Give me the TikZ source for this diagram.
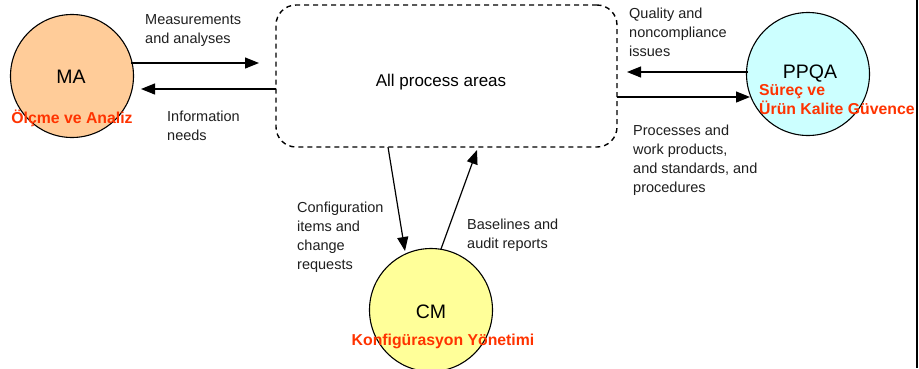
\documentclass[tikz,border=0pt]{standalone}
\usepackage{fontspec}
\setmainfont{Liberation Sans}
\usetikzlibrary{arrows.meta}
\definecolor{maorange}{HTML}{FFCC99}
\definecolor{ppqacyan}{HTML}{CCFFFF}
\definecolor{cmyellow}{HTML}{FFFF99}
\definecolor{trred}{HTML}{FF3300}
\tikzset{
  proc/.style={circle, draw=black, line width=1.1pt, minimum size=123pt, inner sep=0pt},
  pname/.style={font=\fontsize{19.5}{22}\selectfont, inner sep=0pt},
  trlabel/.style={font=\fontsize{15.8}{19}\selectfont\bfseries, text=trred, inner sep=0pt},
  flowlabel/.style={font=\fontsize{14.5}{19}\selectfont, align=left, anchor=north west, inner sep=0pt, text=black!88},
  flow/.style={line width=1.2pt, -{Triangle[length=14pt,width=11pt]}}
}
\begin{document}
\begin{tikzpicture}[x=1pt,y=-1pt]
\useasboundingbox (0,0) rectangle (919,368);
\fill[white] (0,0) rectangle (919,368);
% circles
\node[proc, fill=maorange] (ma) at (72,76) {};
\node[proc, fill=ppqacyan] (ppqa) at (808,74) {};
\node[proc, fill=cmyellow] (cm) at (431,310) {};
% central box
\node[draw, dashed, dash pattern=on 5pt off 4pt, line width=1.4pt, rounded corners=20pt,
      minimum width=341pt, minimum height=142pt, inner sep=0pt] (all) at (446.5,76) {};
\node[font=\fontsize{17}{20}\selectfont, inner sep=0pt] (alltxt) at (441,82) {All process areas};
% circle names
\node[pname] (matxt) at (71,77) {MA};
\node[pname] (ppqatxt) at (810,74) {PPQA};
\node[pname] (cmtxt) at (431,312) {CM};
\node[trlabel] (matr) at (72,118) {Ölçme ve Analiz};
\node[trlabel, align=left, anchor=north west] (ppqatr) at (759,84) {Süreç ve\\Ürün Kalite Güvence};
\node[trlabel] (cmtr) at (443,341) {Konfigürasyon Yönetimi};
% endpoints
\coordinate (a1s) at (131,63);  \coordinate (a1e) at (259,63);
\coordinate (a2s) at (276,89);  \coordinate (a2e) at (141,89);
\coordinate (a3s) at (748,72);  \coordinate (a3e) at (627,72);
\coordinate (a4s) at (617,97);  \coordinate (a4e) at (750,97);
\coordinate (a5s) at (388,147); \coordinate (a5e) at (405,251);
\coordinate (a6s) at (441,249); \coordinate (a6e) at (477,150);
\draw[flow] (a1s) -- (a1e);
\draw[flow] (a2s) -- (a2e);
\draw[flow] (a3s) -- (a3e);
\draw[flow] (a4s) -- (a4e);
\draw[flow] (a5s) -- (a5e);
\draw[flow] (a6s) -- (a6e);
% labels
\node[flowlabel] (l1) at (145,14) {Measurements\\and analyses};
\node[flowlabel] (l2) at (167,111) {Information\\needs};
\node[flowlabel] (l3) at (629,8) {Quality and\\noncompliance\\issues};
\node[flowlabel] (l4) at (633,125) {Processes and\\work products,\\and standards, and\\procedures};
\node[flowlabel] (l5) at (297,202) {Configuration\\items and\\change\\requests};
\node[flowlabel] (l6) at (467,219) {Baselines and\\audit reports};
% right frame edge
\draw[line width=2.5pt] (917,0) -- (917,368);
\end{tikzpicture}
\end{document}
